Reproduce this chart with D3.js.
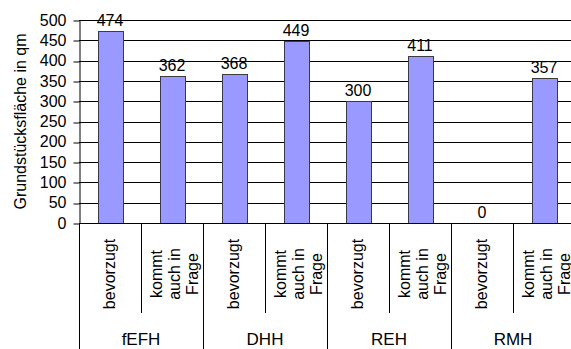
<!DOCTYPE html>
<html>
<head>
<meta charset="utf-8">
<script src="https://cdn.jsdelivr.net/npm/d3@7"></script>
<style>
  body { margin: 0; background: #fff; }
  svg { display: block; font-family: "Liberation Sans", Arial, sans-serif; }
</style>
</head>
<body>
<svg id="chart"></svg>
<script>
const groups = ["fEFH", "DHH", "REH", "RMH"];
const subLabels = [["bevorzugt"], ["kommt", "auch in", "Frage"]];
const values = [474, 362, 368, 449, 300, 411, 0, 357];
const yTicks = [0, 50, 100, 150, 200, 250, 300, 350, 400, 450, 500];
const yTitle = "Grundstücksfläche in qm";

const W = 571, H = 349;
const plotLeft = 79, plotRight = 575, plotTop = 20, plotBottom = 223;

const svg = d3.select("#chart").attr("width", W).attr("height", H);

const idx = d3.range(values.length);

const xCat = d3.scaleBand().domain(idx).range([plotLeft, plotRight]).padding(0);
const x = d3.scaleBand().domain(idx).range([plotLeft, plotRight])
  .paddingInner(0.6).paddingOuter(0.3);
const y = d3.scaleLinear().domain([0, 500]).range([plotBottom, plotTop]);

const snap = (v) => Math.round(v) + 0.5;

// gridlines
svg.append("g")
  .selectAll("line")
  .data(yTicks)
  .join("line")
  .attr("x1", plotLeft)
  .attr("x2", W)
  .attr("y1", (d) => snap(y(d)))
  .attr("y2", (d) => snap(y(d)))
  .attr("stroke", "#000")
  .attr("stroke-width", 1);

// y axis
const yAxis = svg.append("g")
  .attr("transform", `translate(${plotLeft + 0.5},0)`)
  .call(d3.axisLeft(y).tickValues(yTicks).tickSize(6).tickPadding(7).tickSizeOuter(0));
yAxis.select(".domain").attr("stroke", "#000");
yAxis.selectAll(".tick line").attr("stroke", "#000")
  .attr("transform", (d) => `translate(0,${snap(y(d)) - y(d)})`);
yAxis.selectAll("text")
  .attr("font-size", "16px")
  .attr("font-family", "Liberation Sans, Arial, sans-serif")
  .attr("fill", "#000");

// y title
svg.append("text")
  .attr("transform", `translate(26,${(plotTop + plotBottom) / 2}) rotate(-90)`)
  .attr("text-anchor", "middle")
  .attr("font-size", "16px")
  .text(yTitle);

// bars
svg.append("g")
  .selectAll("rect")
  .data(idx.filter((i) => values[i] > 0))
  .join("rect")
  .attr("x", (i) => snap(x(i)))
  .attr("y", (i) => snap(y(values[i])))
  .attr("width", Math.round(x.bandwidth()))
  .attr("height", (i) => Math.round(y(0)) - Math.round(y(values[i])))
  .attr("fill", "#9999ff")
  .attr("stroke", "#3c3c3c")
  .attr("stroke-width", 1);

// value labels
svg.append("g")
  .selectAll("text")
  .data(idx)
  .join("text")
  .attr("x", (i) => x(i) + x.bandwidth() / 2)
  .attr("y", (i) => y(values[i]) - 5)
  .attr("text-anchor", "middle")
  .attr("font-size", "16px")
  .text((i) => values[i]);

// x axis baseline
svg.append("line")
  .attr("x1", plotLeft)
  .attr("x2", W)
  .attr("y1", snap(plotBottom))
  .attr("y2", snap(plotBottom))
  .attr("stroke", "#000");

// separators: short between sub-categories, long between groups
svg.append("g")
  .selectAll("line")
  .data(d3.range(values.length + 1))
  .join("line")
  .attr("x1", (i) => snap(plotLeft + i * xCat.step()))
  .attr("x2", (i) => snap(plotLeft + i * xCat.step()))
  .attr("y1", plotBottom)
  .attr("y2", (i) => (i % 2 === 0 ? H : 313))
  .attr("stroke", "#000");

// sub-category labels (rotated)
idx.forEach((i) => {
  const lines = subLabels[i % 2];
  const cx = xCat(i) + xCat.bandwidth() / 2;
  const n = lines.length;
  lines.forEach((t, j) => {
    const off = n === 1 ? -1 : (j - (n - 1) / 2) * 18 + 2;
    svg.append("text")
      .attr("transform", `translate(${cx + off},274) rotate(-90)`)
      .attr("text-anchor", "middle")
      .attr("dy", "0.35em")
      .attr("font-size", "16px")
      .text(t);
  });
});

// group labels
groups.forEach((g, k) => {
  svg.append("text")
    .attr("x", plotLeft + (k * 2 + 1) * xCat.step())
    .attr("y", 345)
    .attr("text-anchor", "middle")
    .attr("font-size", "17px")
    .text(g);
});
</script>
</body>
</html>
